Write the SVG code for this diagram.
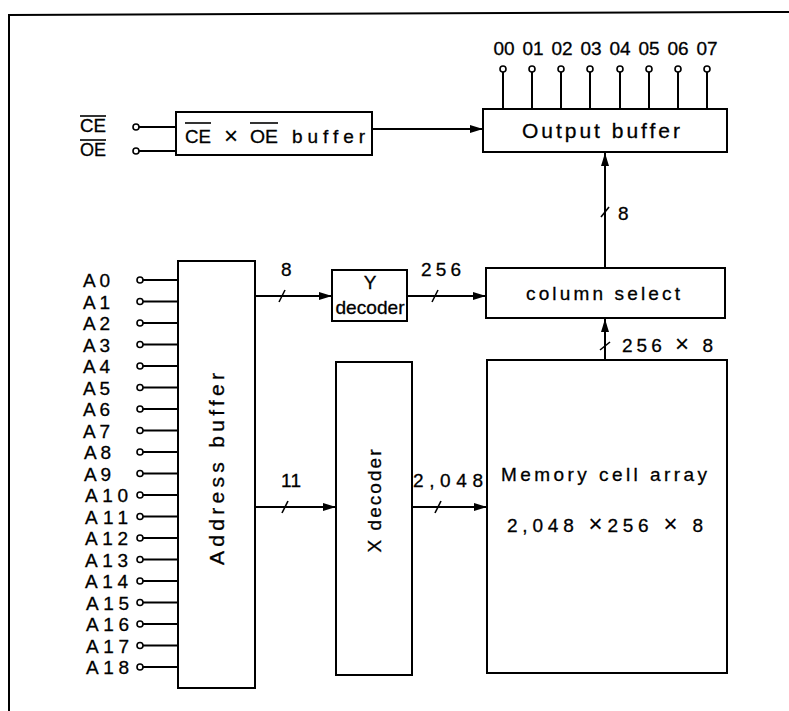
<svg xmlns="http://www.w3.org/2000/svg" width="789" height="711" viewBox="0 0 789 711">
<defs>
<marker id="ah" viewBox="0 0 13 8" refX="13" refY="4" markerWidth="13" markerHeight="8" markerUnits="userSpaceOnUse" orient="auto">
<path d="M0,0 L13,4 L0,8 Z" fill="#000"/>
</marker>
<style>
.box{fill:#fff;stroke:#000;stroke-width:2}
.ln{fill:none;stroke:#000;stroke-width:2}
.ar{fill:none;stroke:#000;stroke-width:2;marker-end:url(#ah)}
.sl{fill:none;stroke:#000;stroke-width:1.6}
.pin{fill:#fff;stroke:#000;stroke-width:1.6}
text{font-family:"Liberation Sans",Arial,sans-serif;fill:#000;stroke:#000;stroke-width:0.3}
.t{font-size:19px}
.lab{font-size:19px}
.big{font-size:21px}
.c{text-anchor:middle}
.x{font-size:24px;stroke-width:0.15}
</style>
</defs>
<rect width="789" height="711" fill="#fff"/>
<g id="frame">
<line class="ln" x1="8" y1="15" x2="789" y2="12"/>
<line class="ln" x1="9" y1="14" x2="9" y2="711"/>
</g>

<g id="connectors">
<line class="ln" x1="139" y1="127" x2="176" y2="127"/>
<line class="ln" x1="139" y1="151" x2="176" y2="151"/>
<line class="ar" x1="372" y1="129" x2="483" y2="129"/>
<line class="ar" x1="605" y1="268" x2="605" y2="153"/>
<line class="sl" x1="601" y1="217" x2="609" y2="207"/>
<line class="ar" x1="605" y1="360" x2="605" y2="319"/>
<line class="sl" x1="600" y1="350" x2="610" y2="342"/>
<line class="ar" x1="255" y1="296" x2="332" y2="296"/>
<line class="sl" x1="279" y1="302" x2="285" y2="290"/>
<line class="ar" x1="407" y1="296" x2="486" y2="296"/>
<line class="sl" x1="432" y1="302" x2="438" y2="290"/>
<line class="ar" x1="255" y1="507" x2="336" y2="507"/>
<line class="sl" x1="282" y1="513" x2="288" y2="501"/>
<line class="ar" x1="412" y1="507" x2="487" y2="507"/>
<line class="sl" x1="435" y1="513" x2="441" y2="501"/>
<g id="outpins">
<line class="ln" x1="503" y1="72" x2="503" y2="109"/>
<line class="ln" x1="532" y1="72" x2="532" y2="109"/>
<line class="ln" x1="561" y1="72" x2="561" y2="109"/>
<line class="ln" x1="590" y1="72" x2="590" y2="109"/>
<line class="ln" x1="620" y1="72" x2="620" y2="109"/>
<line class="ln" x1="649" y1="72" x2="649" y2="109"/>
<line class="ln" x1="678" y1="72" x2="678" y2="109"/>
<line class="ln" x1="707" y1="72" x2="707" y2="109"/>
<circle class="pin" cx="503" cy="69" r="3"/>
<circle class="pin" cx="532" cy="69" r="3"/>
<circle class="pin" cx="561" cy="69" r="3"/>
<circle class="pin" cx="590" cy="69" r="3"/>
<circle class="pin" cx="620" cy="69" r="3"/>
<circle class="pin" cx="649" cy="69" r="3"/>
<circle class="pin" cx="678" cy="69" r="3"/>
<circle class="pin" cx="707" cy="69" r="3"/>
</g>
<g id="addrpins">
<path class="ln" d="M143,280H178M143,301.5H178M143,323H178M143,344.5H178M143,366H178M143,387.5H178M143,409H178M143,430.5H178M143,452H178M143,473.5H178M143,495H178M143,516.5H178M143,538H178M143,559.5H178M143,581H178M143,602.5H178M143,624H178M143,645.5H178M143,667H178"/>
<circle class="pin" cx="140" cy="280" r="3"/>
<circle class="pin" cx="140" cy="301.5" r="3"/>
<circle class="pin" cx="140" cy="323" r="3"/>
<circle class="pin" cx="140" cy="344.5" r="3"/>
<circle class="pin" cx="140" cy="366" r="3"/>
<circle class="pin" cx="140" cy="387.5" r="3"/>
<circle class="pin" cx="140" cy="409" r="3"/>
<circle class="pin" cx="140" cy="430.5" r="3"/>
<circle class="pin" cx="140" cy="452" r="3"/>
<circle class="pin" cx="140" cy="473.5" r="3"/>
<circle class="pin" cx="140" cy="495" r="3"/>
<circle class="pin" cx="140" cy="516.5" r="3"/>
<circle class="pin" cx="140" cy="538" r="3"/>
<circle class="pin" cx="140" cy="559.5" r="3"/>
<circle class="pin" cx="140" cy="581" r="3"/>
<circle class="pin" cx="140" cy="602.5" r="3"/>
<circle class="pin" cx="140" cy="624" r="3"/>
<circle class="pin" cx="140" cy="645.5" r="3"/>
<circle class="pin" cx="140" cy="667" r="3"/>
<circle class="pin" cx="136" cy="127" r="3"/>
<circle class="pin" cx="136" cy="151" r="3"/>
</g>
</g>

<g id="labels">
<text class="lab c" x="504" y="55">00</text>
<text class="lab c" x="533" y="55">01</text>
<text class="lab c" x="562" y="55">02</text>
<text class="lab c" x="591" y="55">03</text>
<text class="lab c" x="620" y="55">04</text>
<text class="lab c" x="649" y="55">05</text>
<text class="lab c" x="678" y="55">06</text>
<text class="lab c" x="707" y="55">07</text>
<text class="lab" x="80" y="132" textLength="26" lengthAdjust="spacingAndGlyphs">CE</text>
<line class="sl" x1="80" y1="116" x2="106" y2="116"/>
<text class="lab" x="80" y="156" textLength="26" lengthAdjust="spacingAndGlyphs">OE</text>
<line class="sl" x1="80" y1="140" x2="106" y2="140"/>
<text class="lab" x="618" y="220">8</text>
<text class="lab" x="622" y="352" textLength="91" lengthAdjust="spacing">256 <tspan class="x">×</tspan> 8</text>
<text class="lab" x="281" y="276">8</text>
<text class="lab" x="421" y="276" textLength="40" lengthAdjust="spacing">256</text>
<text class="lab" x="281" y="487" textLength="20" lengthAdjust="spacing">11</text>
<text class="lab" x="413" y="487" textLength="70" lengthAdjust="spacing">2,048</text>
<g id="alabels" class="lab">
<text x="83" y="287" textLength="27" lengthAdjust="spacing">A0</text>
<text x="83" y="308.5" textLength="27" lengthAdjust="spacing">A1</text>
<text x="83" y="330" textLength="27" lengthAdjust="spacing">A2</text>
<text x="83" y="351.5" textLength="27" lengthAdjust="spacing">A3</text>
<text x="83" y="373" textLength="27" lengthAdjust="spacing">A4</text>
<text x="83" y="394.5" textLength="27" lengthAdjust="spacing">A5</text>
<text x="83" y="416" textLength="27" lengthAdjust="spacing">A6</text>
<text x="83" y="437.5" textLength="27" lengthAdjust="spacing">A7</text>
<text x="84" y="459" textLength="27" lengthAdjust="spacing">A8</text>
<text x="84" y="480.5" textLength="27" lengthAdjust="spacing">A9</text>
<text x="85" y="502" textLength="43" lengthAdjust="spacing">A10</text>
<text x="85" y="523.5" textLength="43" lengthAdjust="spacing">A11</text>
<text x="85" y="545" textLength="43" lengthAdjust="spacing">A12</text>
<text x="85" y="566.5" textLength="43" lengthAdjust="spacing">A13</text>
<text x="85" y="588" textLength="43" lengthAdjust="spacing">A14</text>
<text x="86" y="609.5" textLength="43" lengthAdjust="spacing">A15</text>
<text x="86" y="631" textLength="43" lengthAdjust="spacing">A16</text>
<text x="86" y="652.5" textLength="43" lengthAdjust="spacing">A17</text>
<text x="86" y="674" textLength="43" lengthAdjust="spacing">A18</text>
</g>
</g>

<g id="ceoe-buffer">
<rect class="box" x="176" y="112" width="196" height="43"/>
<text class="t" x="185" y="143" textLength="26" lengthAdjust="spacingAndGlyphs">CE</text>
<text class="x c" x="231" y="144">×</text>
<text class="t" x="250" y="143" textLength="28" lengthAdjust="spacingAndGlyphs">OE</text>
<text class="t" x="292" y="143" textLength="73" lengthAdjust="spacing">buffer</text>
<line class="sl" x1="185" y1="123" x2="211" y2="123"/>
<line class="sl" x1="250" y1="123" x2="278" y2="123"/>
</g>
<g id="output-buffer">
<rect class="box" x="483" y="109" width="244" height="43"/>
<text class="big" x="522" y="138" textLength="158" lengthAdjust="spacing">Output buffer</text>
</g>
<g id="column-select">
<rect class="box" x="486" y="268" width="239" height="50"/>
<text class="t" x="526" y="300" textLength="154" lengthAdjust="spacing">column select</text>
</g>
<g id="memory">
<rect class="box" x="487" y="360" width="240" height="313"/>
<text class="t" x="501" y="481" textLength="206" lengthAdjust="spacing">Memory cell array</text>
<text class="t" x="507" y="532" textLength="196" lengthAdjust="spacing">2,048 <tspan class="x">×</tspan>256 <tspan class="x">×</tspan> 8</text>
</g>
<g id="y-decoder">
<rect class="box" x="332" y="270" width="75" height="51"/>
<text class="t c" x="370" y="289">Y</text>
<text class="t c" x="370" y="314" textLength="69" lengthAdjust="spacingAndGlyphs">decoder</text>
</g>
<g id="x-decoder">
<rect class="box" x="336" y="362" width="76" height="313"/>
<text class="t c" transform="translate(381,501) rotate(-90)" textLength="103" lengthAdjust="spacing">X decoder</text>
</g>
<g id="address-buffer">
<rect class="box" x="178" y="261" width="77" height="427"/>
<text class="big c" transform="translate(224,469) rotate(-90)" textLength="192" lengthAdjust="spacing">Address buffer</text>
</g>
</svg>
